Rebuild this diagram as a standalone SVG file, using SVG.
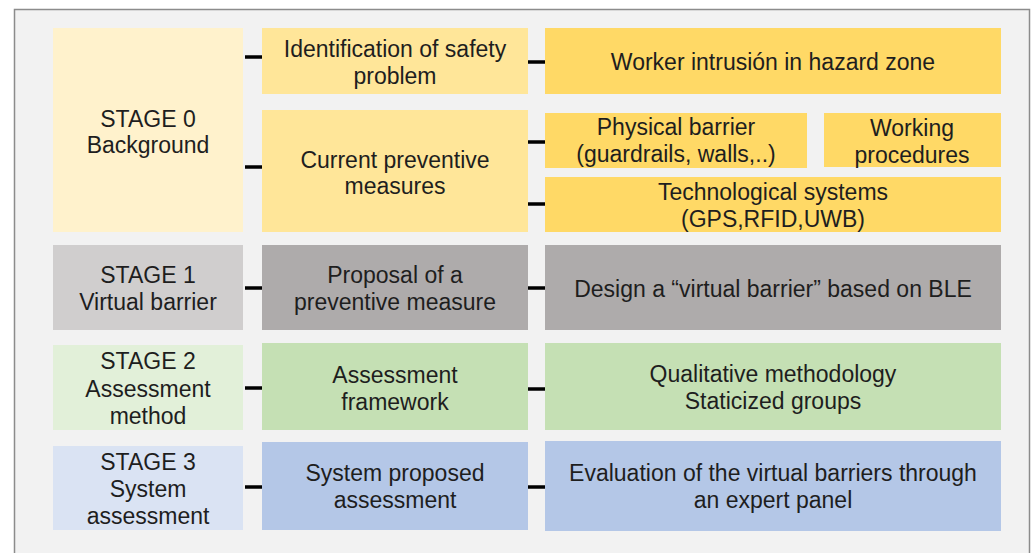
<svg xmlns="http://www.w3.org/2000/svg" width="1034" height="553" viewBox="0 0 1034 553">
<style>
text{font-family:"Liberation Sans",Arial,sans-serif;font-size:23px;fill:#1e1e1e;text-anchor:middle}
.c{stroke:#000;stroke-width:3.5}
.y0{fill:#fff2cc}.y1{fill:#ffe699}.y2{fill:#ffd966}
.g0{fill:#d0cece}.g1{fill:#aeabab}
.n0{fill:#e2f0d9}.n1{fill:#c5e0b4}
.b0{fill:#dae3f3}.b1{fill:#b4c7e7}
</style>
<rect x="14.5" y="9.5" width="1015" height="560" fill="#f2f2f2" stroke="#8c8c8c" stroke-width="1.5"/>
<g id="stage0"><rect class="y0" x="53" y="28" width="190" height="204"/><text x="148" y="127">STAGE 0</text><text x="148" y="153">Background</text></g>
<g id="identification"><rect class="y1" x="262" y="28" width="266" height="66"/><text x="395" y="57">Identification of safety</text><text x="395" y="84">problem</text></g>
<g id="current"><rect class="y1" x="262" y="110" width="266" height="122"/><text x="395" y="168">Current preventive</text><text x="395" y="194">measures</text></g>
<g id="worker"><rect class="y2" x="545" y="28" width="456" height="66"/><text x="773" y="70">Worker intrusión in hazard zone</text></g>
<g id="physical"><rect class="y2" x="545" y="113" width="262" height="55"/><text x="676" y="135">Physical barrier</text><text x="676" y="162">(guardrails, walls,..)</text></g>
<g id="working"><rect class="y2" x="824" y="113" width="177" height="54"/><text x="912" y="136">Working</text><text x="912" y="163">procedures</text></g>
<g id="technological"><rect class="y2" x="545" y="177" width="456" height="55"/><text x="773" y="200">Technological systems</text><text x="773" y="227">(GPS,RFID,UWB)</text></g>
<g id="stage1"><rect class="g0" x="53" y="245" width="190" height="85"/><text x="148" y="283">STAGE 1</text><text x="148" y="310">Virtual barrier</text></g>
<g id="proposal"><rect class="g1" x="262" y="245" width="266" height="85"/><text x="395" y="283">Proposal of a</text><text x="395" y="310">preventive measure</text></g>
<g id="design"><rect class="g1" x="545" y="245" width="456" height="85"/><text x="773" y="297">Design a “virtual barrier” based on BLE</text></g>
<g id="stage2"><rect class="n0" x="53" y="345" width="190" height="85"/><text x="148" y="369">STAGE 2</text><text x="148" y="397">Assessment</text><text x="148" y="424">method</text></g>
<g id="framework"><rect class="n1" x="262" y="343" width="266" height="87"/><text x="395" y="383">Assessment</text><text x="395" y="410">framework</text></g>
<g id="qualitative"><rect class="n1" x="545" y="343" width="456" height="87"/><text x="773" y="382">Qualitative methodology</text><text x="773" y="409">Staticized groups</text></g>
<g id="stage3"><rect class="b0" x="53" y="446" width="190" height="84"/><text x="148" y="470">STAGE 3</text><text x="148" y="497">System</text><text x="148" y="524">assessment</text></g>
<g id="systemproposed"><rect class="b1" x="262" y="442" width="266" height="88"/><text x="395" y="481">System proposed</text><text x="395" y="508">assessment</text></g>
<g id="evaluation"><rect class="b1" x="545" y="441" width="456" height="90"/><text x="773" y="481">Evaluation of the virtual barriers through</text><text x="773" y="508">an expert panel</text></g>
<g id="connectors" class="c">
<line x1="245" y1="57" x2="262" y2="57"/>
<line x1="245" y1="167" x2="262" y2="167"/>
<line x1="528" y1="62" x2="545" y2="62"/>
<line x1="528" y1="142" x2="545" y2="142"/>
<line x1="528" y1="204" x2="545" y2="204"/>
<line x1="245" y1="288" x2="262" y2="288"/>
<line x1="528" y1="288" x2="545" y2="288"/>
<line x1="245" y1="388" x2="262" y2="388"/>
<line x1="528" y1="389" x2="545" y2="389"/>
<line x1="245" y1="487" x2="262" y2="487"/>
<line x1="528" y1="487" x2="545" y2="487"/>
</g>
</svg>
